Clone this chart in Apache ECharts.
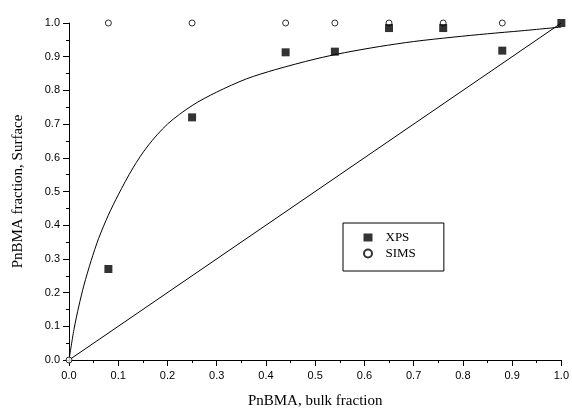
<!DOCTYPE html>
<html>
<head>
<meta charset="utf-8">
<script src="https://cdn.jsdelivr.net/npm/echarts@6/dist/echarts.min.js"></script>
<style>
  html, body { margin: 0; padding: 0; background: #fff; }
  #chart { width: 572px; height: 415px; }
</style>
</head>
<body>
<div id="chart"></div>
<script>
// bulk fraction -> surface fraction
const xps = [[0.08, 0.27], [0.25, 0.72], [0.44, 0.913], [0.54, 0.915], [0.65, 0.985], [0.76, 0.985], [0.88, 0.918], [1.0, 1.0]];
const sims = [[0.0, 0.0], [0.08, 1.0], [0.25, 1.0], [0.44, 1.0], [0.54, 1.0], [0.65, 1.0], [0.76, 1.0], [0.88, 1.0]];
// fitted curve
const fitCurve = [[0, 0], [0.01, 0.09], [0.02, 0.16], [0.03, 0.22], [0.045, 0.295], [0.06, 0.36], [0.08, 0.43],
  [0.10, 0.49], [0.13, 0.57], [0.16, 0.635], [0.20, 0.70], [0.25, 0.755], [0.30, 0.795], [0.36, 0.834],
  [0.42, 0.862], [0.50, 0.893], [0.56, 0.912], [0.63, 0.93], [0.70, 0.945], [0.78, 0.958], [0.85, 0.968],
  [0.92, 0.977], [1.0, 0.988]];
const diagonal = [[0, 0], [1, 1]];

const tickFont = { color: '#000', fontFamily: 'Liberation Sans', fontSize: 11 };
const nameFont = { color: '#000', fontFamily: 'Liberation Serif', fontSize: 15 };

const chart = echarts.init(document.getElementById('chart'));
chart.setOption({
  animation: false,
  grid: { left: 69, right: 9, top: 23, bottom: 55 },
  legend: {
    data: ['XPS', 'SIMS'],
    orient: 'vertical',
    left: 343, top: 223,
    borderColor: '#000', borderWidth: 1,
    padding: [8, 28, 11, 20],
    itemGap: 3, itemWidth: 9, itemHeight: 8,
    textStyle: { color: '#000', fontFamily: 'Liberation Serif', fontSize: 13, padding: [0, 0, 0, 8] }
  },
  xAxis: {
    type: 'value', min: 0, max: 1, interval: 0.1,
    name: 'PnBMA, bulk fraction', nameLocation: 'middle', nameGap: 34, nameTextStyle: nameFont,
    axisLine: { lineStyle: { color: '#000' } },
    axisTick: { length: 6, lineStyle: { color: '#000' } },
    minorTick: { show: true, splitNumber: 2, length: 3, lineStyle: { color: '#000' } },
    axisLabel: Object.assign({ formatter: v => v.toFixed(1), margin: 10 }, tickFont),
    splitLine: { show: false }
  },
  yAxis: {
    type: 'value', min: 0, max: 1, interval: 0.1,
    name: 'PnBMA fraction, Surface', nameLocation: 'middle', nameGap: 43, nameTextStyle: nameFont,
    axisLine: { show: true, lineStyle: { color: '#000' } },
    axisTick: { show: true, length: 6, lineStyle: { color: '#000' } },
    minorTick: { show: true, splitNumber: 2, length: 3, lineStyle: { color: '#000' } },
    axisLabel: Object.assign({ formatter: v => v.toFixed(1), margin: 9 }, tickFont),
    splitLine: { show: false }
  },
  series: [
    {
      name: 'fit', type: 'line', data: fitCurve, smooth: 0.3, symbol: 'none',
      lineStyle: { color: '#000', width: 1 }, z: 1
    },
    {
      name: 'diag', type: 'line', data: diagonal, symbol: 'none',
      lineStyle: { color: '#000', width: 1 }, z: 1
    },
    {
      name: 'SIMS', type: 'scatter', data: sims, symbol: 'circle', symbolSize: 6,
      itemStyle: { color: '#fff', borderColor: '#000', borderWidth: 1 }, z: 3
    },
    {
      name: 'XPS', type: 'scatter', data: xps, symbol: 'rect', symbolSize: 8,
      itemStyle: { color: '#000' }, z: 4
    }
  ]
});
</script>
</body>
</html>
